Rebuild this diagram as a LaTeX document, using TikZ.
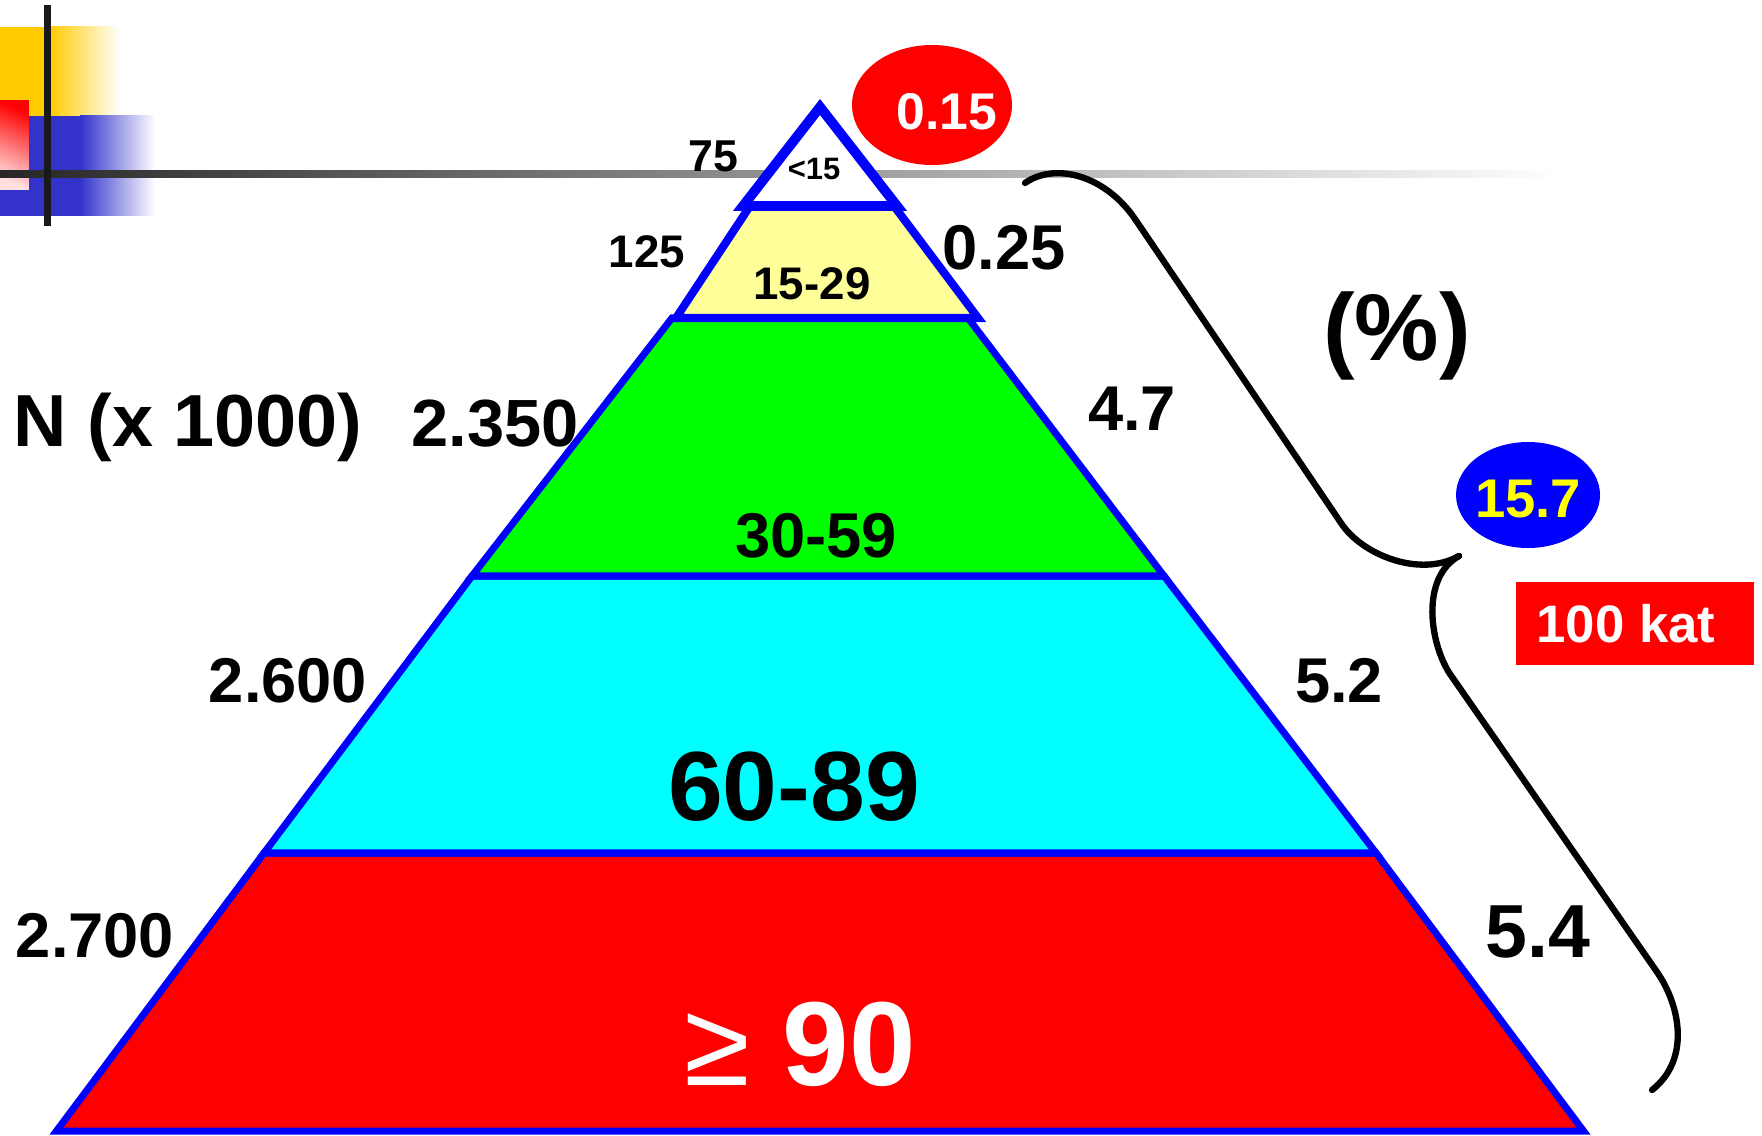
\documentclass[tikz,border=0pt]{standalone}
\usepackage{fontspec}
\setmainfont{Liberation Sans}
\usetikzlibrary{shapes.geometric}
\definecolor{pyrblue}   {RGB}{0,0,255}
\definecolor{pyryellow} {RGB}{255,255,153}
\definecolor{pyrgreen}  {RGB}{0,255,0}
\definecolor{pyrcyan}   {RGB}{0,255,255}
\definecolor{pyrred}    {RGB}{255,0,0}
\definecolor{decoyellow}{RGB}{255,204,0}
\definecolor{decoblue}  {RGB}{51,51,204}
\definecolor{valyellow} {RGB}{255,255,0}

\begin{document}
\begin{tikzpicture}[
  layer/.style={draw=pyrblue,line width=2pt,line join=miter},
  txt/.style={inner sep=0pt,anchor=base,
              font=\bfseries\fontsize{#1}{#1}\selectfont},
  oval/.style={ellipse,inner sep=0pt,minimum width=#1},
  brace/.style={line width=1.8pt,line cap=round,line join=round},
]
\useasboundingbox (0,0) rectangle (17.62,-11.35);

%% ── Corner decoration ────────────────────────────────────────────────────────
\fill[decoyellow] (0,-0.27) rectangle (0.50,-1.16);
\shade[left color=decoyellow,right color=white] (0.50,-0.27) rectangle (1.20,-1.16);
\fill[decoblue] (0,-1.16) rectangle (0.80,-2.16);
\shade[left color=decoblue,right color=white] (0.80,-1.16) rectangle (1.55,-2.16);
\shade[top color=pyrred,bottom color=pyrred!12,shading angle=-25]
  (0,-1.01) rectangle (0.29,-1.90);
\shade[left color=black!85,right color=white] (0,-1.71) rectangle (15.6,-1.78);
\fill[black!90] (0.44,-0.05) rectangle (0.51,-2.26);

%% ── Pyramid layers ───────────────────────────────────────────────────────────
\filldraw[layer,fill=pyrred]
  (2.64,-8.53) -- (13.76,-8.53) -- (15.835,-11.31) -- (0.565,-11.31) -- cycle;
\filldraw[layer,fill=pyrcyan]
  (4.72,-5.76) -- (11.64,-5.76) -- (13.76,-8.53) -- (2.64,-8.53) -- cycle;
\filldraw[layer,fill=pyrgreen]
  (6.72,-3.18) -- (9.68,-3.18) -- (11.64,-5.76) -- (4.72,-5.76) -- cycle;
\filldraw[layer,fill=pyryellow,line width=2.3pt]
  (7.50,-2.06) -- (8.94,-2.06) -- (9.78,-3.18) -- (6.76,-3.18) -- cycle;
\filldraw[layer,fill=white,line width=2.8pt]
  (8.20,-1.07) -- (8.97,-2.06) -- (7.43,-2.06) -- cycle;

%% ── Age bands ────────────────────────────────────────────────────────────────
\node[txt=8.8] (ageA) at (8.14,-1.80) {<15};
\node[txt=13] (ageB) at (8.12,-3.00) {15-29};
\node[txt=18] (ageC) at (8.16,-5.57) {30-59};
\node[txt=28] (ageD) at (7.94,-8.20) {60-89};
\node[txt=34,text=white] (ageE) at (8.00,-10.85) {{\mdseries ≥} 90};

%% ── Counts, N (x 1000) ───────────────────────────────────────────────────────
\node[txt=21,anchor=base west] (unitN) at (0.13,-4.46) {N (x 1000)};
\node[txt=12.7] (cntA) at (7.13,-1.72) {75};
\node[txt=13] (cntB) at (6.47,-2.68) {125};
\node[txt=19] (cntC) at (4.95,-4.46) {2.350};
\node[txt=18] (cntD) at (2.88,-7.02) {2.600};
\node[txt=18] (cntE) at (0.95,-9.57) {2.700};

%% ── Shares (%) ───────────────────────────────────────────────────────────────
\node[txt=27] (unitP) at (13.97,-3.60) {(\%)};
\node[oval=1.60cm,minimum height=1.20cm,fill=pyrred] (ovalA) at (9.32,-1.05) {};
\node[txt=14.7,text=white] (pctA) at (9.47,-1.30) {0.15};
\node[txt=18] (pctB) at (10.04,-2.70) {0.25};
\node[txt=18] (pctC) at (11.32,-4.30) {4.7};
\node[txt=18] (pctD) at (13.39,-7.02) {5.2};
\node[txt=21.4] (pctE) at (15.38,-9.57) {5.4};

%% ── Sum of the lower layers ──────────────────────────────────────────────────
\draw[brace] (10.25,-1.83) .. controls (10.55,-1.62) and (11.05,-1.75) .. (11.35,-2.19)
  -- (13.41,-5.23) .. controls (13.62,-5.55) and (14.20,-5.78) .. (14.59,-5.56);
\draw[brace] (14.59,-5.56) .. controls (14.20,-5.78) and (14.30,-6.44) .. (14.50,-6.74)
  -- (16.57,-9.72) .. controls (16.81,-10.07) and (16.90,-10.60) .. (16.52,-10.90);
\node[oval=1.44cm,minimum height=1.06cm,fill=pyrblue] (ovalB) at (15.28,-4.95) {};
\node[txt=15.5,text=valyellow] (pctSum) at (15.28,-5.17) {15.7};
\node[fill=pyrred,minimum width=2.38cm,minimum height=0.83cm,inner sep=0pt,
      text=white,font=\bfseries\fontsize{15}{15}\selectfont] (total)
  at (16.35,-6.235) {100 kat\kern0.18cm};

\end{tikzpicture}
\end{document}
